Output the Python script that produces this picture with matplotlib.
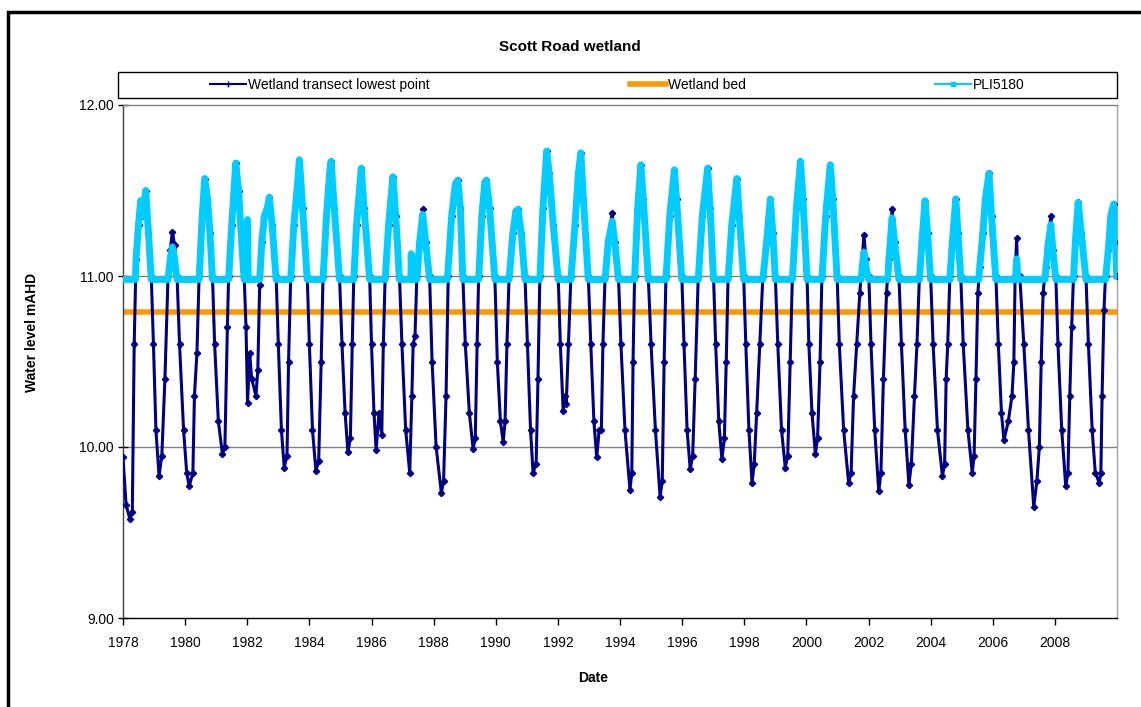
import matplotlib
matplotlib.use("Agg")
import matplotlib.pyplot as plt
from matplotlib.lines import Line2D
from matplotlib.patches import Rectangle

plt.rcParams["font.family"] = ["Liberation Sans", "DejaVu Sans"]

# values: decimal year, water level (mAHD)
wet_t = [
    1978.00, 1978.10, 1978.22, 1978.30, 1978.36, 1978.42, 1978.50, 1978.57, 1978.65, 1978.73, 1978.82, 1978.91, 1978.98, 1979.06, 1979.16,
    1979.25, 1979.35, 1979.45, 1979.52, 1979.59, 1979.66, 1979.74, 1979.82, 1979.95, 1980.05, 1980.13,
    1980.25, 1980.30, 1980.38, 1980.45, 1980.55, 1980.63, 1980.72, 1980.80, 1980.88, 1980.95, 1981.07, 1981.20,
    1981.28, 1981.36, 1981.40, 1981.50, 1981.63, 1981.72, 1981.82, 1981.90, 1981.96, 1982.01, 1982.08, 1982.14, 1982.28,
    1982.34, 1982.40, 1982.47, 1982.55, 1982.65, 1982.71, 1982.80, 1982.93, 1983.00, 1983.10, 1983.19,
    1983.28, 1983.33, 1983.40, 1983.50, 1983.60, 1983.68, 1983.78, 1983.93, 1984.00, 1984.10, 1984.21,
    1984.30, 1984.38, 1984.44, 1984.55, 1984.65, 1984.70, 1984.80, 1984.97, 1985.05, 1985.15, 1985.24,
    1985.32, 1985.38, 1985.43, 1985.52, 1985.67, 1985.76, 1985.94, 1986.00, 1986.08, 1986.15, 1986.24, 1986.33,
    1986.38, 1986.44, 1986.55, 1986.69, 1986.78, 1986.90, 1986.98, 1987.10, 1987.23,
    1987.30, 1987.34, 1987.40, 1987.46, 1987.55, 1987.65, 1987.74, 1987.87, 1987.95, 1988.08, 1988.25,
    1988.32, 1988.40, 1988.47, 1988.58, 1988.70, 1988.78, 1988.86, 1988.94, 1989.02, 1989.15, 1989.27,
    1989.34, 1989.40, 1989.45, 1989.55, 1989.65, 1989.70, 1989.80, 1989.97, 1990.05, 1990.15, 1990.24,
    1990.30, 1990.36, 1990.43, 1990.55, 1990.65, 1990.72, 1990.82, 1990.94, 1991.02, 1991.12, 1991.20,
    1991.30, 1991.36, 1991.42, 1991.52, 1991.64, 1991.72, 1991.85, 1992.01, 1992.08, 1992.17, 1992.22, 1992.27,
    1992.34, 1992.42, 1992.55, 1992.66, 1992.74, 1992.82, 1992.98, 1993.06, 1993.16, 1993.25, 1993.33, 1993.40,
    1993.45, 1993.52, 1993.62, 1993.75, 1993.83, 1993.95, 1994.03, 1994.16, 1994.32,
    1994.38, 1994.42, 1994.47, 1994.57, 1994.67, 1994.75, 1994.91, 1995.00, 1995.14, 1995.29,
    1995.36, 1995.42, 1995.48, 1995.60, 1995.75, 1995.82, 1995.99, 1996.06, 1996.16, 1996.26,
    1996.34, 1996.42, 1996.52, 1996.65, 1996.82, 1996.90, 1997.01, 1997.08, 1997.18, 1997.28,
    1997.36, 1997.42, 1997.48, 1997.60, 1997.76, 1997.84, 1997.98, 1998.05, 1998.15, 1998.25,
    1998.32, 1998.40, 1998.50, 1998.60, 1998.72, 1998.84, 1998.92, 1999.00, 1999.08, 1999.20, 1999.32,
    1999.40, 1999.48, 1999.55, 1999.68, 1999.81, 1999.89, 2000.02, 2000.08, 2000.18, 2000.29,
    2000.36, 2000.44, 2000.50, 2000.62, 2000.77, 2000.85, 2000.99, 2001.06, 2001.20, 2001.36,
    2001.44, 2001.52, 2001.62, 2001.72, 2001.78, 2001.85, 2001.92, 2002.01, 2002.08, 2002.20, 2002.33,
    2002.40, 2002.48, 2002.58, 2002.65, 2002.76, 2002.85, 2002.98, 2003.06, 2003.18, 2003.30,
    2003.38, 2003.48, 2003.56, 2003.64, 2003.72, 2003.82, 2003.90, 2004.00, 2004.08, 2004.22, 2004.38,
    2004.45, 2004.50, 2004.55, 2004.62, 2004.70, 2004.81, 2004.88, 2004.97, 2005.05, 2005.20, 2005.34,
    2005.40, 2005.46, 2005.52, 2005.58, 2005.68, 2005.76, 2005.88, 2005.96, 2006.10, 2006.18, 2006.28, 2006.36,
    2006.50, 2006.62, 2006.68, 2006.72, 2006.77, 2006.80, 2006.87, 2007.00, 2007.15, 2007.32,
    2007.42, 2007.50, 2007.56, 2007.62, 2007.70, 2007.78, 2007.87, 2007.95, 2008.03, 2008.10, 2008.22, 2008.35,
    2008.42, 2008.48, 2008.54, 2008.60, 2008.66, 2008.75, 2008.85, 2009.00, 2009.08, 2009.20, 2009.30, 2009.43,
    2009.48, 2009.52, 2009.58, 2009.63, 2009.72, 2009.80, 2009.89, 2009.95, 2009.99,
]
wet_v = [
    9.94, 9.66, 9.58, 9.62, 10.60, 11.10, 11.30, 11.44, 11.35, 11.50, 11.25, 11.00, 10.60, 10.10, 9.83,
    9.95, 10.40, 11.00, 11.15, 11.26, 11.18, 11.00, 10.60, 10.10, 9.85, 9.77,
    9.85, 10.30, 10.55, 11.00, 11.35, 11.57, 11.45, 11.25, 11.00, 10.60, 10.15, 9.96,
    10.00, 10.70, 11.00, 11.30, 11.66, 11.50, 11.20, 11.00, 10.70, 10.26, 10.55, 10.40, 10.30,
    10.45, 10.95, 11.20, 11.35, 11.40, 11.46, 11.30, 11.00, 10.60, 10.10, 9.88,
    9.95, 10.50, 11.00, 11.30, 11.50, 11.68, 11.40, 11.00, 10.60, 10.10, 9.86,
    9.92, 10.50, 11.00, 11.35, 11.60, 11.67, 11.40, 11.00, 10.60, 10.20, 9.97,
    10.05, 10.60, 11.00, 11.30, 11.63, 11.40, 11.00, 10.60, 10.20, 9.98, 10.20, 10.07,
    10.60, 11.00, 11.30, 11.58, 11.35, 11.00, 10.60, 10.10, 9.85,
    10.30, 10.60, 10.65, 11.00, 11.20, 11.39, 11.20, 11.00, 10.50, 10.00, 9.73,
    9.80, 10.30, 11.00, 11.35, 11.54, 11.56, 11.40, 11.00, 10.60, 10.20, 9.99,
    10.05, 10.60, 11.00, 11.35, 11.55, 11.56, 11.40, 11.00, 10.50, 10.15, 10.03,
    10.15, 10.60, 11.00, 11.25, 11.38, 11.39, 11.25, 11.00, 10.60, 10.10, 9.85,
    9.90, 10.40, 11.00, 11.40, 11.73, 11.60, 11.30, 11.00, 10.60, 10.21, 10.30, 10.25,
    10.60, 11.00, 11.30, 11.60, 11.72, 11.45, 11.00, 10.60, 10.15, 9.94, 10.10, 10.10,
    10.60, 11.00, 11.20, 11.37, 11.20, 11.00, 10.60, 10.10, 9.75,
    9.85, 10.50, 11.00, 11.40, 11.65, 11.45, 11.00, 10.60, 10.10, 9.71,
    9.80, 10.50, 11.00, 11.35, 11.62, 11.45, 11.00, 10.60, 10.10, 9.87,
    9.95, 10.40, 11.00, 11.35, 11.63, 11.40, 11.00, 10.60, 10.15, 9.93,
    10.05, 10.50, 11.00, 11.30, 11.57, 11.35, 11.00, 10.60, 10.10, 9.79,
    9.90, 10.20, 10.60, 11.00, 11.20, 11.45, 11.25, 11.00, 10.60, 10.10, 9.88,
    9.95, 10.50, 11.00, 11.40, 11.67, 11.45, 11.00, 10.60, 10.20, 9.96,
    10.05, 10.50, 11.00, 11.35, 11.65, 11.45, 11.00, 10.60, 10.10, 9.79,
    9.85, 10.30, 10.60, 10.90, 11.05, 11.24, 11.10, 11.00, 10.60, 10.10, 9.74,
    9.85, 10.40, 10.90, 11.10, 11.39, 11.20, 11.00, 10.60, 10.10, 9.78,
    9.90, 10.30, 10.60, 11.00, 11.20, 11.44, 11.25, 11.00, 10.60, 10.10, 9.83,
    9.90, 10.40, 10.60, 11.00, 11.20, 11.45, 11.25, 11.00, 10.60, 10.10, 9.85,
    9.95, 10.40, 10.90, 11.05, 11.25, 11.45, 11.60, 11.35, 11.00, 10.60, 10.20, 10.04,
    10.15, 10.30, 10.50, 11.00, 11.22, 11.00, 11.00, 10.60, 10.10, 9.65,
    9.80, 10.00, 10.50, 10.90, 11.05, 11.20, 11.35, 11.15, 11.00, 10.60, 10.10, 9.77,
    9.85, 10.30, 10.70, 11.00, 11.20, 11.43, 11.25, 11.00, 10.60, 10.10, 9.85, 9.79,
    9.85, 10.30, 10.80, 11.00, 11.15, 11.35, 11.42, 11.20, 11.00,
]

# PLI5180 bore: flat floor ~10.98 with winter peaks
pli_t = [
    1978.00, 1978.40, 1978.42, 1978.50, 1978.57, 1978.65, 1978.73, 1978.82, 1978.91,
    1979.45, 1979.52, 1979.59, 1979.66, 1979.74,
    1980.45, 1980.55, 1980.63, 1980.72, 1980.80, 1980.88,
    1981.40, 1981.50, 1981.63, 1981.72, 1981.82, 1981.90,
    1981.99, 1982.01, 1982.03, 1982.40, 1982.47, 1982.55, 1982.65, 1982.71, 1982.80, 1982.93,
    1983.40, 1983.50, 1983.60, 1983.68, 1983.78, 1983.93,
    1984.44, 1984.55, 1984.65, 1984.70, 1984.80, 1984.97,
    1985.43, 1985.52, 1985.67, 1985.76, 1985.94,
    1986.44, 1986.55, 1986.69, 1986.78, 1986.90,
    1987.27, 1987.28, 1987.30, 1987.46, 1987.55, 1987.65, 1987.74, 1987.87,
    1988.44, 1988.47, 1988.58, 1988.70, 1988.78, 1988.86, 1988.94,
    1989.45, 1989.55, 1989.65, 1989.70, 1989.80, 1989.97,
    1990.43, 1990.55, 1990.65, 1990.72, 1990.82, 1990.94,
    1991.42, 1991.52, 1991.64, 1991.72, 1991.85, 1992.01,
    1992.42, 1992.55, 1992.66, 1992.74, 1992.82, 1992.98,
    1993.52, 1993.62, 1993.75, 1993.83, 1993.95,
    1994.47, 1994.57, 1994.67, 1994.75, 1994.91,
    1995.48, 1995.60, 1995.75, 1995.82, 1995.99,
    1996.52, 1996.65, 1996.82, 1996.90, 1997.01,
    1997.48, 1997.60, 1997.76, 1997.84, 1997.98,
    1998.60, 1998.72, 1998.84, 1998.92, 1999.00,
    1999.55, 1999.68, 1999.81, 1999.89, 2000.02,
    2000.50, 2000.62, 2000.77, 2000.85, 2000.99,
    2001.76, 2001.85, 2001.92, 2002.01,
    2002.62, 2002.65, 2002.76, 2002.85, 2002.98,
    2003.64, 2003.72, 2003.82, 2003.90, 2004.00,
    2004.62, 2004.70, 2004.81, 2004.88, 2004.97,
    2005.55, 2005.58, 2005.68, 2005.76, 2005.88, 2005.96, 2006.10,
    2006.73, 2006.77, 2006.81,
    2007.68, 2007.70, 2007.78, 2007.87, 2007.95, 2008.03,
    2008.60, 2008.66, 2008.75, 2008.85, 2009.00,
    2009.63, 2009.72, 2009.80, 2009.89, 2009.95, 2009.99,
]
pli_v = [
    10.98, 10.98, 11.10, 11.30, 11.44, 11.35, 11.50, 11.25, 10.98,
    10.98, 11.10, 11.17, 11.10, 10.98,
    10.98, 11.35, 11.57, 11.45, 11.25, 10.98,
    10.98, 11.30, 11.66, 11.50, 11.20, 10.98,
    10.98, 11.33, 10.98, 10.98, 11.20, 11.35, 11.40, 11.46, 11.30, 10.98,
    10.98, 11.30, 11.50, 11.68, 11.40, 10.98,
    10.98, 11.35, 11.60, 11.67, 11.40, 10.98,
    10.98, 11.30, 11.63, 11.40, 10.98,
    10.98, 11.30, 11.58, 11.35, 10.98,
    10.98, 11.13, 10.98, 10.98, 11.20, 11.36, 11.20, 10.98,
    10.98, 11.05, 11.35, 11.54, 11.56, 11.40, 10.98,
    10.98, 11.35, 11.55, 11.56, 11.40, 10.98,
    10.98, 11.25, 11.38, 11.39, 11.25, 10.98,
    10.98, 11.40, 11.73, 11.60, 11.30, 10.98,
    10.98, 11.30, 11.60, 11.72, 11.45, 10.98,
    10.98, 11.20, 11.32, 11.20, 10.98,
    10.98, 11.40, 11.65, 11.45, 10.98,
    10.98, 11.35, 11.62, 11.45, 10.98,
    10.98, 11.35, 11.63, 11.40, 10.98,
    10.98, 11.30, 11.57, 11.35, 10.98,
    10.98, 11.20, 11.45, 11.25, 10.98,
    10.98, 11.40, 11.67, 11.45, 10.98,
    10.98, 11.35, 11.65, 11.45, 10.98,
    10.98, 11.14, 11.05, 10.98,
    10.98, 11.08, 11.34, 11.18, 10.98,
    10.98, 11.20, 11.44, 11.25, 10.98,
    10.98, 11.20, 11.45, 11.25, 10.98,
    10.98, 11.05, 11.25, 11.45, 11.60, 11.35, 10.98,
    10.98, 11.10, 10.98,
    10.98, 11.02, 11.18, 11.30, 11.12, 10.98,
    10.98, 11.20, 11.43, 11.25, 10.98,
    10.98, 11.15, 11.35, 11.42, 11.20, 11.00,
]

bed_level = 10.79
bed_t = [1978.0, 2010.0]
bed_v = [bed_level, bed_level]

x_ticks = list(range(1978, 2010, 2))
y_ticks = [9.0, 10.0, 11.0, 12.0]

NAVY = "#000080"
ORANGE = "#FF9900"
CYAN = "#00CCFF"
W, H = 1141, 707

fig = plt.figure(figsize=(W / 100, H / 100), dpi=100)
ax = fig.add_axes([123 / W, 1 - 618 / H, (1117 - 123) / W, (618 - 105) / H])

ax.plot(bed_t, bed_v, color=ORANGE, lw=4, solid_capstyle="butt", zorder=2)
ax.plot(wet_t, wet_v, color=NAVY, lw=2.2, marker="D", ms=3.2, solid_joinstyle="round", zorder=3)
ax.plot(pli_t, pli_v, color=CYAN, lw=5, solid_joinstyle="round", zorder=4)

ax.set_xlim(1978, 2010)
ax.set_ylim(9, 12)
ax.set_xticks(x_ticks)
ax.set_xticklabels([str(y) for y in x_ticks])
ax.set_yticks(y_ticks)
ax.set_yticklabels([f"{v:.2f}" for v in y_ticks])
for v in (10.0, 11.0):
    ax.axhline(v, color="#808080", lw=1, zorder=1)
ax.tick_params(axis="x", direction="out", length=5, width=1, labelsize=10, pad=8)
ax.tick_params(axis="y", direction="inout", length=7, width=1, labelsize=10, pad=3)
ax.spines["top"].set_color("#808080")
ax.spines["right"].set_color("#a0a0a0")
ax.spines["left"].set_color("#404040")
ax.spines["bottom"].set_color("#000000")
for s in ax.spines.values():
    s.set_linewidth(1)

# outer chart frame (cut off on right and bottom)
fig.patches.append(Rectangle((8 / W, -0.05), 1.1, 1.05 - 12 / H, transform=fig.transFigure,
                             fill=False, ec="black", lw=2.5, clip_on=False))

fig.text(570 / W, 1 - 47 / H, "Scott Road wetland", ha="center", va="center",
         fontsize=11, fontweight="bold")
fig.text(32 / W, 1 - 332 / H, "Water level mAHD", rotation=90, ha="center", va="center",
         fontsize=10, fontweight="bold")
fig.text(593 / W, 1 - 678 / H, "Date", ha="center", va="center", fontsize=10, fontweight="bold")

# legend box with three entries spread across it
fig.patches.append(Rectangle((118 / W, 1 - 98 / H), 999 / W, 26 / H, transform=fig.transFigure,
                             fill=False, ec="black", lw=1))
handles = [
    (Line2D([], [], color=NAVY, lw=1.5, marker="+", ms=4), "Wetland transect lowest point", 210),
    (Line2D([], [], color=ORANGE, lw=4), "Wetland bed", 630),
    (Line2D([], [], color=CYAN, lw=1.5, marker="s", ms=3), "PLI5180", 935),
]
for h, lab, x0 in handles:
    fig.legend(handles=[h], labels=[lab], loc="center left", bbox_to_anchor=(x0 / W, 1 - 85 / H),
               frameon=False, fontsize=10, handlelength=2.6, handletextpad=0.15,
               borderpad=0, borderaxespad=0)

fig.savefig("out.png", dpi=100)
